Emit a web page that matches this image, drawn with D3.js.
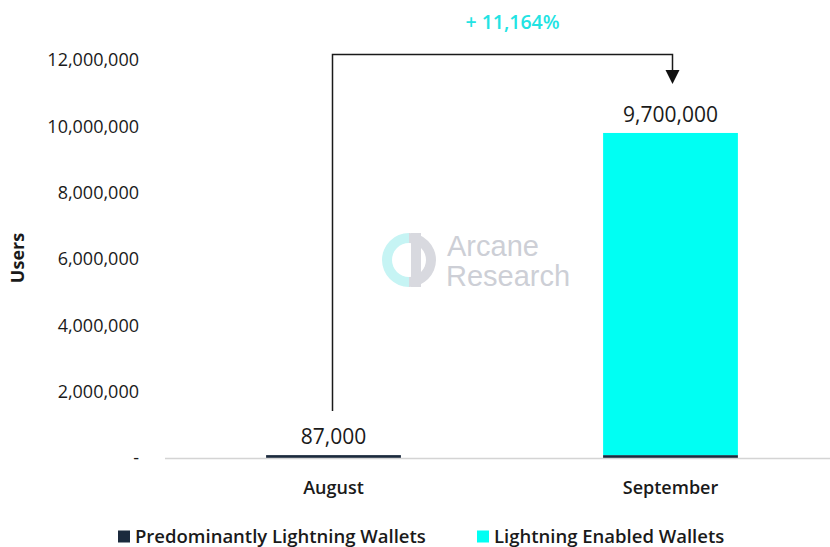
<!DOCTYPE html>
<html>
<head>
<meta charset="utf-8">
<script src="https://cdn.jsdelivr.net/npm/d3@7"></script>
<style>
body { margin: 0; background: #fff; }
svg text { font-family: "Open Sans", "Noto Sans", sans-serif; }
</style>
</head>
<body>
<svg id="chart"></svg>
<script>
var months = ["August", "September"];
var predominantly = [87000, 87000];
var enabled = [0, 9713000];
var valueLabels = ["87,000", "9,700,000"];
var yTicks = [0, 2000000, 4000000, 6000000, 8000000, 10000000, 12000000];
var seriesNames = ["Predominantly Lightning Wallets", "Lightning Enabled Wallets"];
var growthLabel = "+ 11,164%";

var width = 830, height = 547;
var colors = ["#1b2a3d", "#00fff3"];

var svg = d3.select("#chart")
    .attr("width", width)
    .attr("height", height);

var x = d3.scaleBand()
    .domain(months)
    .range([165, 839])
    .paddingInner(0.6)
    .paddingOuter(0.3);

var y = d3.scaleLinear()
    .domain([0, 12000000])
    .range([458, 60]);

// stack the two series
var rows = months.map(function(m, i){
    return {month: m, pred: predominantly[i], enab: enabled[i]};
});
var stack = d3.stack().keys(["pred", "enab"])(rows);

// watermark
var wm = svg.append("g");
wm.append("path")
    .attr("d", d3.arc()({innerRadius: 17, outerRadius: 27, startAngle: Math.PI, endAngle: 2 * Math.PI}))
    .attr("transform", "translate(409,260)")
    .attr("fill", "#c6f4f4");
wm.append("path")
    .attr("d", d3.arc()({innerRadius: 17, outerRadius: 27, startAngle: 0, endAngle: Math.PI}))
    .attr("transform", "translate(409,260)")
    .attr("fill", "#d8d9df");
wm.append("rect").attr("x", 411).attr("y", 233).attr("width", 10).attr("height", 54).attr("fill", "#d8d9df");
wm.append("text").attr("x", 447).attr("y", 256).attr("font-size", 29)
    .attr("fill", "#cdcfd6").style("font-family", "'Liberation Sans', Arial, sans-serif").text("Arcane");
wm.append("text").attr("x", 446).attr("y", 286).attr("font-size", 29)
    .attr("fill", "#cdcfd6").style("font-family", "'Liberation Sans', Arial, sans-serif").text("Research");

// y axis labels
var yAxis = d3.axisLeft(y)
    .tickValues(yTicks)
    .tickSize(0)
    .tickPadding(0)
    .tickFormat(function(d){ return d === 0 ? "-" : d3.format(",")(d); });

var yg = svg.append("g")
    .attr("transform", "translate(139,0)")
    .call(yAxis);
yg.select(".domain").remove();
yg.selectAll("text")
    .attr("font-size", 18)
    .attr("font-weight", 500)
    .attr("fill", "#1a1a1a")
    .style("font-family", "'Open Sans', sans-serif");

svg.append("text")
    .attr("transform", "translate(24,258) rotate(-90)")
    .attr("text-anchor", "middle")
    .attr("font-size", 18)
    .attr("font-weight", "bold")
    .attr("fill", "#1a1a1a")
    .text("Users");

// bars
svg.selectAll("g.layer")
    .data(stack)
    .enter()
    .append("g")
    .attr("class", "layer")
    .attr("fill", function(d, i){ return colors[i]; })
    .selectAll("rect")
    .data(function(d){ return d; })
    .enter()
    .append("rect")
    .attr("x", function(d){ return x(d.data.month); })
    .attr("width", x.bandwidth())
    .attr("y", function(d){ return y(d[1]); })
    .attr("height", function(d){ return Math.max(0, y(d[0]) - y(d[1])); });

// baseline
svg.append("line")
    .attr("x1", 165).attr("x2", 830)
    .attr("y1", y(0) + 0.5).attr("y2", y(0) + 0.5)
    .attr("stroke", "#d4d4d4")
    .attr("stroke-width", 1.5);

// x axis
var xg = svg.append("g")
    .attr("transform", "translate(0," + y(0) + ")")
    .call(d3.axisBottom(x).tickSize(0).tickPadding(23));
xg.select(".domain").remove();
xg.selectAll("text")
    .attr("font-size", 18)
    .attr("font-weight", 600)
    .attr("fill", "#1a1a1a")
    .style("font-family", "'Open Sans', sans-serif");

// value labels
svg.selectAll("text.val")
    .data(months)
    .enter()
    .append("text")
    .attr("class", "val")
    .attr("x", function(d){ return x(d) + x.bandwidth() / 2; })
    .attr("y", function(d, i){ return y(predominantly[i] + enabled[i]) - 11; })
    .attr("text-anchor", "middle")
    .attr("font-size", 21)
    .attr("fill", "#1a1a1a")
    .text(function(d, i){ return valueLabels[i]; });

// growth bracket
var xa = x("August") + x.bandwidth() / 2 - 1;
var xs = x("September") + x.bandwidth() / 2 + 2;
svg.append("path")
    .attr("d", "M" + xa + "," + (y(predominantly[0]) - 44) + "V54.5H" + xs + "V72")
    .attr("fill", "none")
    .attr("stroke", "#1a1a1a")
    .attr("stroke-width", 1.5);
svg.append("path")
    .attr("d", "M" + (xs - 7) + ",70L" + (xs + 7) + ",70L" + xs + ",84Z")
    .attr("fill", "#111");

svg.append("text")
    .attr("x", (xa + xs) / 2 + 10)
    .attr("y", 29)
    .attr("text-anchor", "middle")
    .attr("font-size", 19.5)
    .attr("font-weight", 600)
    .attr("fill", "#22e3e3")
    .text(growthLabel);

// legend
var legendX = [118, 477];
var lg = svg.selectAll("g.leg")
    .data(seriesNames)
    .enter()
    .append("g")
    .attr("class", "leg")
    .attr("transform", function(d, i){ return "translate(" + legendX[i] + ",536)"; });
lg.append("rect")
    .attr("x", 0).attr("y", -5.5)
    .attr("width", 12).attr("height", 12)
    .attr("fill", function(d, i){ return colors[i]; });
lg.append("text")
    .attr("x", 17).attr("y", 6.5)
    .attr("font-size", 18.5)
    .attr("font-weight", 600)
    .attr("fill", "#1a1a1a")
    .text(function(d){ return d; });
</script>
</body>
</html>
